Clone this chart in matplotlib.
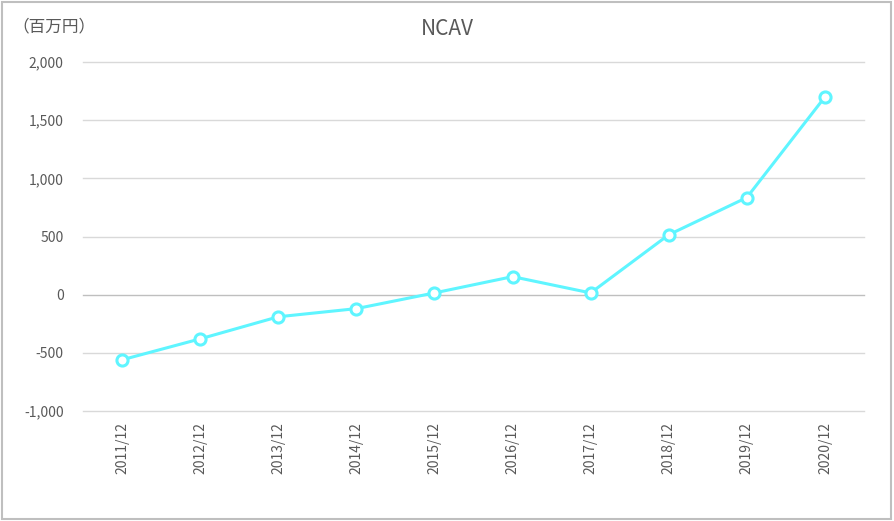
import numpy as np
import matplotlib.pyplot as plt
from matplotlib.ticker import FuncFormatter

plt.rcParams['font.family'] = ['Noto Sans CJK JP', 'DejaVu Sans']

# データ（百万円）
years = ['2011/12', '2012/12', '2013/12', '2014/12', '2015/12',
         '2016/12', '2017/12', '2018/12', '2019/12', '2020/12']
ncav = [-560, -380, -190, -120, 15, 155, 15, 515, 835, 1700]
yticks = [-1000, -500, 0, 500, 1000, 1500, 2000]

fig = plt.figure(figsize=(8.94, 5.21), dpi=100)
ax = fig.add_axes([83 / 894, 1 - 411 / 521, (864 - 83) / 894, (411 - 62) / 521])

x = np.arange(len(years))
ax.plot(x, ncav, color='#5ff5ff', lw=2.2, marker='o', markersize=8,
        markerfacecolor='white', markeredgecolor='#5ff5ff', markeredgewidth=2.2,
        zorder=3)

ax.set_xlim(-0.5, len(years) - 0.5)
ax.set_ylim(-1000, 2000)
ax.set_yticks(yticks)
ax.yaxis.set_major_formatter(FuncFormatter(lambda v, p: f'{int(v):,}'))
ax.set_xticks(x)
ax.set_xticklabels(years, rotation=90)

for v in yticks:
    ax.axhline(v, color='#bfbfbf' if v == 0 else '#d9d9d9', lw=1, zorder=1, clip_on=False)

for s in ax.spines.values():
    s.set_visible(False)
ax.tick_params(length=0, colors='#595959', labelsize=10)
ax.tick_params(axis='y', pad=14)
ax.tick_params(axis='x', pad=8)

fig.text(0.5, 1 - 29 / 521, 'NCAV', ha='center', va='center', fontsize=15, color='#595959')
fig.text(12 / 894, 1 - 27 / 521, '（百万円）', ha='left', va='center', fontsize=12, color='#595959',
         family=['Noto Sans CJK JP'])

# 外枠
fig.patches.append(plt.Rectangle((0.002, 0.003), 0.995, 0.993, transform=fig.transFigure,
                                 fill=False, edgecolor='#bfbfbf', lw=1.5))

fig.savefig('out.png', dpi=100)
